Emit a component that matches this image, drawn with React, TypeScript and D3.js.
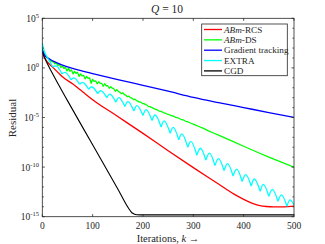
import React, { useEffect, useRef } from 'react'
import * as d3 from 'd3'

const W = 325
const H = 244

// all values are log10(residual)
const rcsK = [0, 5, 10, 20, 30, 40, 60, 80, 100, 150, 200, 250, 300, 350, 380, 400, 415, 430, 445, 460, 480, 500]
const rcsV = [1.6, 1.0, 0.6, 0.1, -0.4, -0.9, -1.6, -2.4, -3.2, -4.9, -6.6, -8.35, -10.05, -11.7, -12.7, -13.25, -13.6, -13.85, -13.97, -14.0, -14.0, -13.93]

const dsK = [0, 3, 6, 10, 14, 18, 22, 25, 28, 31, 34, 37, 40, 43, 46, 49, 52, 55, 58, 61, 64, 67, 70, 73, 76, 79, 82, 85, 88, 91, 94, 97, 100, 103, 106, 109, 112, 115, 118, 121, 124, 127, 130, 133, 136, 139, 142, 145, 148, 151, 154, 157, 160, 163, 166, 169, 172, 175, 178, 181, 184, 187, 190, 193, 196, 199, 202, 205, 208, 211, 214, 217, 220, 224, 228, 232, 236, 240, 244, 248, 252, 256, 260, 265, 270, 275, 280, 285, 290, 295, 300, 310, 320, 330, 340, 350, 375, 400, 425, 450, 475, 500]
const dsV = [2.0, 1.6, 1.3, 1.05, 0.85, 0.65, 0.62, 0.42, 0.5, 0.25, 0.38, 0.05, 0.2, -0.05, 0.05, -0.3, -0.05, -0.35, -0.2, -0.6, -0.35, -0.55, -0.45, -0.85, -0.6, -0.8, -0.75, -1.1, -0.85, -1.05, -1.0, -1.55, -1.15, -1.35, -1.3, -1.6, -1.4, -1.55, -1.55, -1.85, -1.6, -1.8, -1.8, -2.05, -1.9, -2.05, -2.1, -2.35, -2.2, -2.35, -2.45, -2.6, -2.5, -2.7, -2.75, -2.9, -2.85, -3.0, -3.05, -3.2, -3.15, -3.3, -3.35, -3.45, -3.45, -3.6, -3.6, -3.7, -3.75, -3.9, -3.9, -3.98, -4.05, -4.15, -4.22, -4.35, -4.38, -4.5, -4.55, -4.65, -4.7, -4.82, -4.85, -4.98, -5.05, -5.18, -5.25, -5.38, -5.45, -5.58, -5.66, -5.88, -6.1, -6.34, -6.56, -6.78, -7.34, -7.9, -8.45, -9.0, -9.5, -10.0]

const gtK = [0, 3, 7, 15, 25, 40, 60, 80, 100, 150, 200, 250, 300, 350, 400, 450, 500]
const gtV = [1.85, 1.45, 1.15, 0.87, 0.6, 0.28, -0.05, -0.32, -0.57, -1.18, -1.76, -2.35, -2.97, -3.5, -4.0, -4.5, -4.98]

// EXTRA: smooth start, then scalloped arches (trough -> peak -> trough)
const exHeadK = [0, 2, 5, 10, 15, 21]
const exHeadV = [2.5, 2.05, 1.55, 1.05, 0.6, 0.1]
const exTroughK = [21, 39, 57, 74, 92, 110, 128, 146, 164, 182, 200, 218, 236, 254, 271, 289, 307, 325, 343, 361, 379, 397, 415, 433, 450, 468, 486, 500]
const exTroughV = [0.1, -0.6, -1.2, -1.65, -2.15, -2.6, -3.0, -3.45, -3.9, -4.35, -4.8, -5.3, -5.95, -6.6, -7.25, -8.0, -8.8, -9.3, -9.85, -10.35, -10.9, -11.45, -11.9, -12.45, -12.95, -13.45, -13.95, -13.8]
const exPeakK = [27, 45, 63, 80, 98, 116, 134, 152, 170, 188, 206, 224, 242, 260, 277, 295, 314, 332, 350, 368, 386, 404, 421, 439, 457, 475, 492]
const exPeakV = [0.2, -0.45, -1.0, -1.45, -1.9, -2.3, -2.65, -3.0, -3.4, -3.8, -4.2, -4.75, -5.35, -6.0, -6.65, -7.4, -8.1, -8.6, -9.15, -9.65, -10.2, -10.75, -11.2, -11.75, -12.25, -12.8, -13.3]

const cgdK = [0, 3, 8, 20, 50, 100, 150, 172, 178, 182, 188, 200, 500]
const cgdV = [1.6, 1.2, 0.65, -0.55, -3.3, -7.75, -12.2, -14.2, -14.6, -14.72, -14.8, -14.82, -14.82]

const legendNames = ['-RCS', '-DS', 'Gradient tracking', 'EXTRA', 'CGD']
const colors = ['#ff0000', '#00ff00', '#0000ff', '#00ffff', '#000000']

const xTicks = [0, 100, 200, 300, 400, 500]
const yMajor = [5, 0, -5, -10, -15]

const zip = (a: number[], b: number[]) => a.map((k, i) => [k, b[i]] as [number, number])

const App = () => {
    const svgRef = useRef<SVGSVGElement>(null)

    useEffect(() => {
        const svg = d3.select(svgRef.current)
        svg.selectAll('*').remove()

        const font = '"Liberation Serif", "Times New Roman", "DejaVu Serif", serif'
        const left = 42.3, right = 294, top = 18.3, bottom = 216.7

        const x = d3.scaleLinear().domain([0, 500]).range([left, right])
        const y = d3.scaleLog().domain([1e-15, 1e5]).range([bottom, top])
        const py = (v: number) => y(Math.pow(10, v))

        svg.append('rect').attr('width', W).attr('height', H).attr('fill', '#fff')

        svg.append('defs').append('clipPath').attr('id', 'plotclip')
            .append('rect').attr('x', left).attr('y', top)
            .attr('width', right - left).attr('height', bottom - top)

        const smooth = d3.line<[number, number]>()
            .x(d => x(d[0])).y(d => py(d[1]))
            .curve(d3.curveMonotoneX)
        const straight = d3.line<[number, number]>()
            .x(d => x(d[0])).y(d => py(d[1]))

        // EXTRA path built from arches so troughs stay sharp
        let exPath = smooth(zip(exHeadK, exHeadV)) || ''
        exPeakK.forEach((pk, i) => {
            const arch: [number, number][] = [
                [exTroughK[i], exTroughV[i]],
                [pk, exPeakV[i]],
                [exTroughK[i + 1], exTroughV[i + 1]],
            ]
            exPath += smooth(arch)
        })

        const paths = [
            smooth(zip(rcsK, rcsV)),
            straight(zip(dsK, dsV)),
            smooth(zip(gtK, gtV)),
            exPath,
            smooth(zip(cgdK, cgdV)),
        ]

        const plot = svg.append('g').attr('clip-path', 'url(#plotclip)')
        paths.forEach((p, i) => {
            plot.append('path')
                .attr('d', p)
                .attr('fill', 'none')
                .attr('stroke', colors[i])
                .attr('stroke-width', i === 4 ? 1.1 : 1.3)
                .attr('stroke-linejoin', 'round')
        })

        // axes box and ticks
        const ax = svg.append('g').attr('stroke', '#262626').attr('stroke-width', 0.8)
        ax.append('rect').attr('x', left).attr('y', top)
            .attr('width', right - left).attr('height', bottom - top).attr('fill', 'none')

        xTicks.forEach(t => {
            ax.append('line').attr('x1', x(t)).attr('x2', x(t)).attr('y1', bottom).attr('y2', bottom - 2.5)
            ax.append('line').attr('x1', x(t)).attr('x2', x(t)).attr('y1', top).attr('y2', top + 2.5)
        })
        d3.range(-15, 6).forEach(e => {
            const len = yMajor.includes(e) ? 2.5 : 1.5
            ax.append('line').attr('x1', left).attr('x2', left + len).attr('y1', py(e)).attr('y2', py(e))
            ax.append('line').attr('x1', right).attr('x2', right - len).attr('y1', py(e)).attr('y2', py(e))
        })

        const txt = svg.append('g').attr('font-family', font).attr('fill', '#262626')

        xTicks.forEach(t => {
            txt.append('text').attr('x', x(t)).attr('y', 229)
                .attr('text-anchor', 'middle').attr('font-size', 9.5).text(t)
        })
        yMajor.forEach(e => {
            const t = txt.append('text').attr('x', 39).attr('y', py(e) + 3.5)
                .attr('text-anchor', 'end').attr('font-size', 9.5)
            t.append('tspan').text('10')
            t.append('tspan').attr('dy', -4).attr('font-size', 6.5).text(String(e))
        })

        // title and axis labels
        const title = txt.append('text').attr('x', 167).attr('y', 13)
            .attr('text-anchor', 'middle').attr('font-size', 11.5)
        title.append('tspan').attr('font-style', 'italic').text('Q')
        title.append('tspan').text(' = 10')

        const xl = txt.append('text').attr('x', 168).attr('y', 241.5)
            .attr('text-anchor', 'middle').attr('font-size', 10.5)
        xl.append('tspan').text('Iterations, ')
        xl.append('tspan').attr('font-style', 'italic').text('k')
        xl.append('tspan').text(' \u2192')

        txt.append('text').attr('transform', 'translate(16,118) rotate(-90)')
            .attr('text-anchor', 'middle').attr('font-size', 11).text('Residual')

        // legend
        const lg = svg.append('g')
        lg.append('rect').attr('x', 201.7).attr('y', 24).attr('width', 85.6).attr('height', 51.7)
            .attr('fill', '#fff').attr('stroke', '#262626').attr('stroke-width', 0.8)
        legendNames.forEach((name, i) => {
            const yy = 29.5 + i * 10.35
            lg.append('line').attr('x1', 204).attr('x2', 222).attr('y1', yy).attr('y2', yy)
                .attr('stroke', colors[i]).attr('stroke-width', 1.3)
            const t = lg.append('text').attr('x', 224).attr('y', yy + 3)
                .attr('font-family', font).attr('font-size', 9.2).attr('fill', '#262626')
            if (i < 2) t.append('tspan').attr('font-style', 'italic').text('ABm')
            t.append('tspan').text(name)
        })
    }, [])

    return (
        <svg ref={svgRef} width={W} height={H}
            style={{ position: 'absolute', left: 0, top: 0, display: 'block' }} />
    )
}

export default App
